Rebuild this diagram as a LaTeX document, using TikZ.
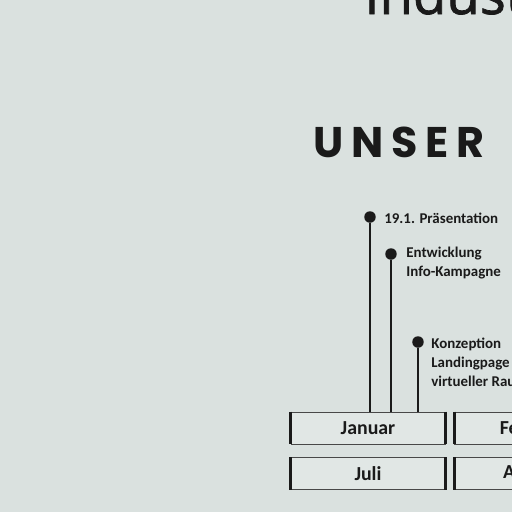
\documentclass[tikz,border=0pt]{standalone}
\usepackage{fontspec}
\setmainfont{Carlito}
\newfontfamily\titlefont{Poppins}[LetterSpace=18]
\newfontfamily\headfont{Open Sans}[FakeBold=1.4]
\usetikzlibrary{positioning}
\definecolor{wall}{RGB}{218,225,223}
\definecolor{ink}{RGB}{26,26,26}
\tikzset{
	dot/.style={
		circle,
		fill=ink,
		inner sep=0pt,
		minimum size=0.23cm,
	},
	stem/.style={
		draw=ink,
		line width=1.6pt,
	},
	note/.style={
		font=\bfseries\fontsize{8.5}{10.8}\selectfont,
		text=ink,
		align=left,
		inner sep=0pt,
	},
	monthbox/.style={
		rectangle,
		draw=ink!80,
		line width=0.5pt,
		fill=wall!80!white,
		minimum width=3.08cm,
		minimum height=0.64cm,
		inner sep=0pt,
		font=\bfseries\fontsize{11.3}{12}\selectfont,
		text=ink,
	},
	sidebar/.style={
		draw=ink,
		line width=1.7pt,
	},
}
\begin{document}
\begin{tikzpicture}[x=0.02cm, y=-0.02cm]
	\useasboundingbox (0,0) rectangle (512,512);
	\fill [wall] (0,0) rectangle (512,512);
	\clip (0,0) rectangle (512,512);

	% heading
	\node [anchor=base west, inner sep=0pt, font=\headfont\fontsize{31}{31}\selectfont, text=ink] (head) at (364,14) {Industrie};
	\node [anchor=base west, inner sep=0pt, font=\titlefont\bfseries\fontsize{24.4}{24.4}\selectfont, text=ink] (title) at (313,157) {UNSER};

	% months
	\node [monthbox] (jan) at (368,428) {Januar};
	\node [monthbox, right=0.18cm of jan] (feb) {Februar};
	\node [monthbox, below=0.26cm of jan] (jul) {Juli};
	\node [monthbox, right=0.18cm of jul] (aug) {August};
	\foreach \m in {jan, feb, jul, aug} {
		\draw [sidebar] (\m.north west) -- (\m.south west);
		\draw [sidebar] (\m.north east) -- (\m.south east);
	}

	% milestones
	\node [dot] (d1) at (370,217) {};
	\node [dot] (d2) at (391,254) {};
	\node [dot] (d3) at (418,342) {};
	\draw [stem] (d1) -- (d1 |- jan.north);
	\draw [stem] (d2) -- (d2 |- jan.north);
	\draw [stem] (d3) -- (d3 |- jan.north);

	\node [note, anchor=west] (n1) at (384,218) {19.1. Präsentation};
	\node [note, anchor=north west] (n2) at (406,247) {Entwicklung\\Info-Kampagne};
	\node [note, anchor=north west] (n3) at (431,338) {Konzeption\\Landingpage\\virtueller Raum};
\end{tikzpicture}
\end{document}
